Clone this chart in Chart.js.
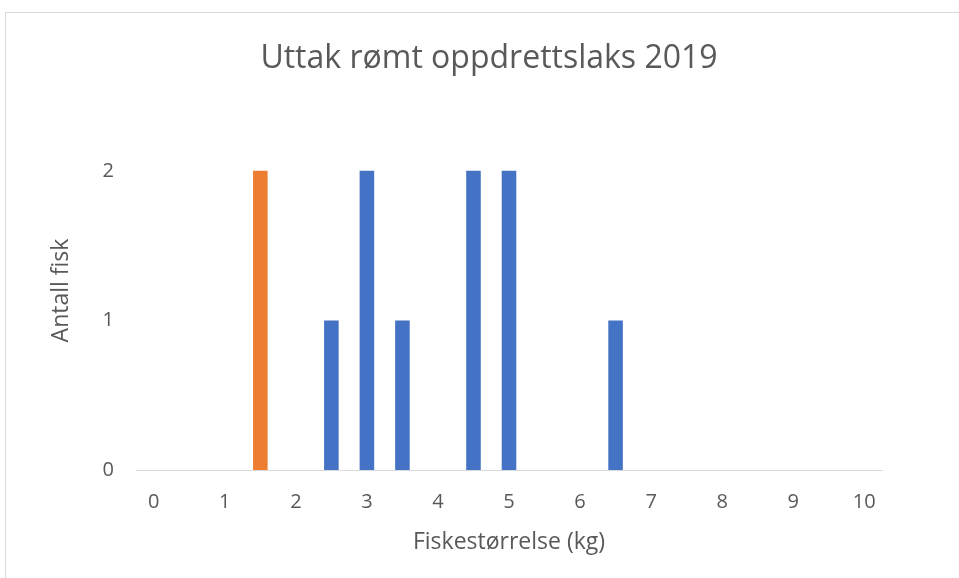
<!DOCTYPE html>
<html>
<head>
<meta charset="utf-8">
<title>Uttak rømt oppdrettslaks 2019</title>
<script src="https://cdn.jsdelivr.net/npm/chart.js@4"></script>
<style>
  html, body { margin: 0; padding: 0; background: #fff; overflow: hidden; }
  #frame {
    position: absolute; left: 5px; top: 12px; width: 1000px; height: 1000px;
    border: 1px solid #d9d9d9; box-sizing: border-box;
  }
  #wrap { position: absolute; left: 0; top: 0; width: 959px; height: 578px; }
</style>
</head>
<body>
<div id="frame"></div>
<div id="wrap"><canvas id="chart" width="959" height="578"></canvas></div>
<script>
// ── Data ──────────────────────────────────────────────────
const TITLE = "Uttak rømt oppdrettslaks 2019";
const X_TITLE = "Fiskestørrelse (kg)";
const Y_TITLE = "Antall fisk";

// fish size categories in half-kg steps
const sizes = ["0", "0.5", "1", "1.5", "2", "2.5", "3", "3.5", "4", "4.5", "5",
               "5.5", "6", "6.5", "7", "7.5", "8", "8.5", "9", "9.5", "10"];
// number of fish per size
const counts = [0, 0, 0, 2, 0, 1, 2, 1, 0, 2, 2, 0, 0, 1, 0, 0, 0, 0, 0, 0, 0];
const highlightSize = "1.5";
const yTicks = [0, 1, 2];

// ── Style ─────────────────────────────────────────────────
const BLUE = "#4472C4";
const ORANGE = "#ED7D31";
const TEXT = "#595959";
const FONT = "'Open Sans', 'DejaVu Sans', sans-serif";

// chart title is centred on the outer chart box (not the plot), so draw it here
const titlePlugin = {
  id: "boxTitle",
  afterDraw(chart) {
    const ctx = chart.ctx;
    ctx.save();
    ctx.fillStyle = TEXT;
    ctx.font = `32px ${FONT}`;
    ctx.textAlign = "center";
    ctx.textBaseline = "alphabetic";
    ctx.fillText(TITLE, 489, 68);
    ctx.restore();
  },
};

new Chart(document.getElementById("chart"), {
  type: "bar",
  data: {
    labels: sizes,
    datasets: [{
      label: Y_TITLE,
      data: counts,
      backgroundColor: (c) => (sizes[c.dataIndex] === highlightSize ? ORANGE : BLUE),
      barPercentage: 0.41,
      categoryPercentage: 1.0,
    }],
  },
  options: {
    responsive: false,
    animation: false,
    layout: { padding: { left: 48, right: 77, top: 111, bottom: 20 } },
    plugins: {
      legend: { display: false },
      tooltip: { enabled: false },
      title: { display: false },
    },
    scales: {
      x: {
        afterFit: (s) => { s.height = 88; },
        grid: { display: false, drawTicks: false },
        border: { display: true, color: "#d9d9d9", width: 1 },
        ticks: {
          color: TEXT,
          font: { family: FONT, size: 20 },
          padding: 20,
          autoSkip: false,
          maxRotation: 0,
          callback: (v, i) => (Number(sizes[i]) % 1 === 0 ? sizes[i] : ""),
        },
        title: {
          display: true,
          text: X_TITLE,
          color: TEXT,
          font: { family: FONT, size: 23 },
          padding: { top: 0, bottom: 2 },
        },
      },
      y: {
        min: 0,
        max: 2.4,
        afterFit: (s) => { s.width = 88; },
        grid: { display: false, drawTicks: false },
        border: { display: false },
        afterBuildTicks: (scale) => { scale.ticks = yTicks.map((v) => ({ value: v })); },
        ticks: {
          color: TEXT,
          font: { family: FONT, size: 20 },
          padding: 22,
        },
        title: {
          display: true,
          text: Y_TITLE,
          color: TEXT,
          font: { family: FONT, size: 23 },
          padding: { top: 0, bottom: 0 },
        },
      },
    },
  },
  plugins: [titlePlugin],
});
</script>
</body>
</html>
